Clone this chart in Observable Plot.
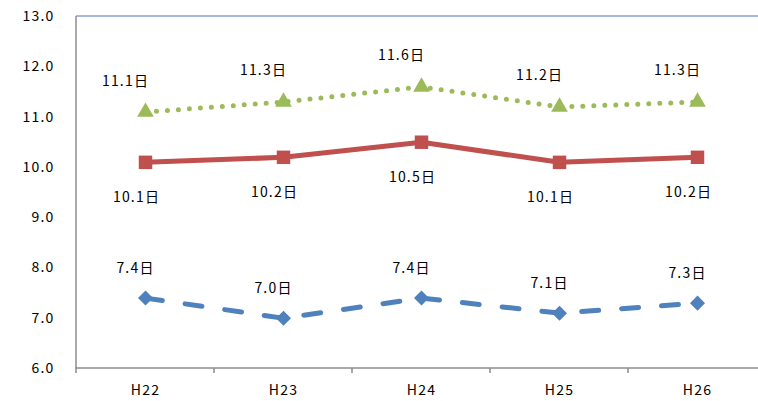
<!DOCTYPE html>
<html>
<head>
<meta charset="utf-8">
<script src="https://cdn.jsdelivr.net/npm/d3@7"></script>
<script src="https://cdn.jsdelivr.net/npm/@observablehq/plot@0.6"></script>
<style>
  html, body { margin: 0; padding: 0; background: #fff; overflow: hidden; }
  #chart svg { display: block; overflow: hidden; }
  #chart svg text { letter-spacing: 1.2px; }
</style>
</head>
<body>
<div id="chart"></div>
<script>
// Fiscal years (Heisei)
const years = ["H22", "H23", "H24", "H25", "H26"];
// Three series of average days
const seriesGreen = [11.1, 11.3, 11.6, 11.2, 11.3];
const seriesRed = [10.1, 10.2, 10.5, 10.1, 10.2];
const seriesBlue = [7.4, 7.0, 7.4, 7.1, 7.3];
// Y axis ticks
const yTicks = [6, 7, 8, 9, 10, 11, 12, 13];

const GREEN = "#9bbb59", RED = "#c0504d", BLUE = "#4f81bd";
const FONT = "'Noto Sans CJK JP', 'DejaVu Sans', sans-serif";

const rows = (vals) => years.map((y, i) => ({year: y, value: vals[i]}));
const green = rows(seriesGreen), red = rows(seriesRed), blue = rows(seriesBlue);
const label = (d) => d.value.toFixed(1) + "日";

// Diamond marker: a square stood on its corner
const diamond = {
  draw(c, size) {
    const s = Math.sqrt(size / 2);
    c.moveTo(0, -s); c.lineTo(s, 0); c.lineTo(0, s); c.lineTo(-s, 0); c.closePath();
  }
};

// Axis lines and category-boundary tick marks
function frameLines(index, scales, values, dims) {
  const g = d3.create("svg:g");
  const x = scales.x, y = scales.y;
  const step = x(years[1]) - x(years[0]);
  const left = dims.marginLeft, right = dims.width - dims.marginRight;
  const top = y(13), bottom = y(6);
  g.append("line").attr("x1", left).attr("x2", right).attr("y1", top).attr("y2", top)
    .attr("stroke", "#a5b9df").attr("stroke-width", 2);
  g.append("line").attr("x1", left).attr("x2", left).attr("y1", top).attr("y2", bottom)
    .attr("stroke", "#8c8c8c").attr("stroke-width", 1.5);
  g.append("line").attr("x1", left - 1).attr("x2", right).attr("y1", bottom).attr("y2", bottom)
    .attr("stroke", "#8c8c8c").attr("stroke-width", 1.5);
  const bounds = [x(years[0]) - step / 2, ...years.map(yr => x(yr) + step / 2)];
  for (const bx of bounds) {
    g.append("line").attr("x1", bx).attr("x2", bx).attr("y1", bottom).attr("y2", bottom + 5)
      .attr("stroke", "#8c8c8c").attr("stroke-width", 1.5);
  }
  return g.node();
}

const chart = Plot.plot({
  width: 758,
  height: 401,
  marginLeft: 76,
  marginRight: 0,
  marginTop: 16,
  marginBottom: 33,
  style: {fontFamily: FONT, fontSize: "14px", color: "#000", background: "#fff"},
  x: {type: "point", domain: years, range: [76, 766], padding: 0.5, label: null},
  y: {domain: [6, 13], label: null},
  marks: [
    Plot.axisY(yTicks, {tickSize: 0, tickPadding: 22, tickFormat: d => d.toFixed(1), fontSize: 14, fontFamily: FONT}),
    Plot.axisX({tickSize: 0, tickPadding: 17, fontSize: 14, fontFamily: FONT}),
    frameLines,
    // Green dotted series
    Plot.line(green, {x: "year", y: "value", stroke: GREEN, strokeWidth: 5,
      strokeDasharray: "0,11", strokeLinecap: "round"}),
    Plot.dot(green, {x: "year", y: "value", symbol: "triangle", r: 6.2, fill: GREEN}),
    Plot.text(green, {x: "year", y: "value", text: label, dy: -31, dx: -20, fontSize: 14, fill: "#000"}),
    // Red solid series
    Plot.line(red, {x: "year", y: "value", stroke: RED, strokeWidth: 5}),
    Plot.dot(red, {x: "year", y: "value", symbol: "square", r: 7.6, fill: RED}),
    Plot.text(red, {x: "year", y: "value", text: label, dy: 35, dx: -9, fontSize: 14, fill: "#000"}),
    // Blue dashed series
    Plot.line(blue, {x: "year", y: "value", stroke: BLUE, strokeWidth: 5,
      strokeDasharray: "17,23", strokeLinecap: "round"}),
    Plot.dot(blue, {x: "year", y: "value", symbol: diamond, r: 6, fill: BLUE}),
    Plot.text(blue, {x: "year", y: "value", text: label, dy: -30, dx: -10, fontSize: 14, fill: "#000"})
  ]
});

document.getElementById("chart").appendChild(chart);
</script>
</body>
</html>
